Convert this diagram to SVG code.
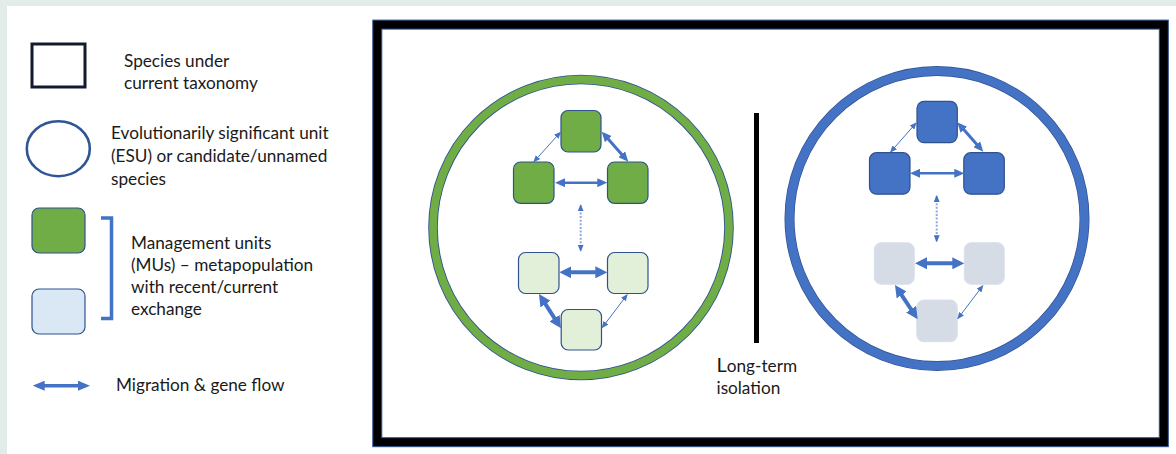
<svg xmlns="http://www.w3.org/2000/svg" width="1176" height="454" viewBox="0 0 1176 454">
<style>
.t{font-family:Lato,"Liberation Sans",sans-serif;font-size:17.2px;fill:#1a1a1a}
.a{fill:none;stroke:#4472c4}
.dot{fill:none;stroke:#8faadc;stroke-width:2;stroke-dasharray:2 1.6}
.g{fill:#70ad47;stroke:#2f528f;stroke-width:1.2}
.lg{fill:#e2f0d9;stroke:#2f528f;stroke-width:1.2}
.b{fill:#4472c4;stroke:#2f528f;stroke-width:1.2}
.lb{fill:#d6dce5;stroke:#dae0ea;stroke-width:1}
</style>
<defs>
<marker id="mt" markerUnits="userSpaceOnUse" viewBox="0 0 7 6" refX="6" refY="3" markerWidth="7" markerHeight="6" orient="auto-start-reverse"><path d="M0,0L7,3L0,6z" fill="#4472c4"/></marker>
<marker id="mm" markerUnits="userSpaceOnUse" viewBox="0 0 10 9" refX="6.2" refY="4.5" markerWidth="10" markerHeight="9" orient="auto-start-reverse"><path d="M0,0L10,4.5L0,9z" fill="#4472c4"/></marker>
<marker id="mk" markerUnits="userSpaceOnUse" viewBox="0 0 12 12" refX="7.5" refY="6" markerWidth="12" markerHeight="12" orient="auto-start-reverse"><path d="M0,0L12,6L0,12z" fill="#4472c4"/></marker>
<marker id="ml" markerUnits="userSpaceOnUse" viewBox="0 0 12 10" refX="7.3" refY="5" markerWidth="12" markerHeight="10" orient="auto-start-reverse"><path d="M0,0L12,5L0,10z" fill="#4472c4"/></marker>
</defs>
<rect x="0" y="0" width="1176" height="454" fill="#e2edea"/>
<rect x="7" y="6" width="1169" height="448" fill="#ffffff"/>

<g id="legend">
<g id="legend-species">
<rect x="32" y="44" width="53" height="43" fill="#fff" stroke="#111a2e" stroke-width="3"/>
<text class="t" x="124" y="67">Species under</text>
<text class="t" x="124" y="88.5">current taxonomy</text>
</g>
<g id="legend-esu">
<ellipse cx="58.3" cy="148.7" rx="31.5" ry="27.5" fill="#fff" stroke="#2f5597" stroke-width="2.6"/>
<text class="t" x="111" y="139">Evolutionarily significant unit</text>
<text class="t" x="111" y="162">(ESU) or candidate/unnamed</text>
<text class="t" x="111" y="184.5">species</text>
</g>
<g id="legend-mu">
<rect class="g" x="32" y="208" width="53" height="45" rx="7"/>
<rect x="32" y="289" width="53" height="45" rx="7" fill="#dae7f5" stroke="#2f528f" stroke-width="1.2"/>
<path d="M101,218H111.5V318.5H101" fill="none" stroke="#4472c4" stroke-width="3.5"/>
<text class="t" x="131" y="248.5">Management units</text>
<text class="t" x="131" y="270.5">(MUs) – metapopulation</text>
<text class="t" x="131" y="292.5">with recent/current</text>
<text class="t" x="131" y="314.5">exchange</text>
</g>
<g id="legend-flow">
<line class="a" x1="37.4" y1="385.7" x2="85.3" y2="385.7" stroke-width="3.5" marker-start="url(#ml)" marker-end="url(#ml)"/>
<text class="t" x="116" y="391">Migration &amp; gene flow</text>
</g>
</g>

<g id="species-box">
<rect x="377.3" y="24.6" width="786.5" height="417.6" fill="none" stroke="#000" stroke-width="9"/>
<rect x="372.8" y="20.1" width="795.5" height="426.6" fill="none" stroke="#2f528f" stroke-width="1"/>
<rect x="381.8" y="29.1" width="777.5" height="408.6" fill="none" stroke="#2f528f" stroke-width="1"/>
</g>

<g id="esu-green">
<circle cx="581" cy="227.5" r="148" fill="none" stroke="#2f528f" stroke-width="9.6"/>
<circle cx="581" cy="227.5" r="148" fill="none" stroke="#70ad47" stroke-width="7.8"/>
</g>
<g id="esu-blue">
<circle cx="937" cy="218.5" r="147.5" fill="none" stroke="#2f528f" stroke-width="10"/>
<circle cx="937" cy="218.5" r="147.5" fill="none" stroke="#4472c4" stroke-width="8.6"/>
</g>

<g id="mu-g1"><rect class="g" x="561" y="110.5" width="40" height="41.5" rx="7"/></g>
<g id="mu-g2"><rect class="g" x="513.5" y="162" width="40.5" height="41.3" rx="7"/></g>
<g id="mu-g3"><rect class="g" x="607.5" y="162" width="40.5" height="41.3" rx="7"/></g>
<g id="mu-lg1"><rect class="lg" x="518.5" y="252.5" width="40.5" height="41" rx="7"/></g>
<g id="mu-lg2"><rect class="lg" x="607.5" y="252.5" width="40.5" height="41" rx="7"/></g>
<g id="mu-lg3"><rect class="lg" x="561.2" y="309.5" width="40.3" height="40.5" rx="7"/></g>

<g id="mu-b1"><rect class="b" x="917" y="101.3" width="40.3" height="41.3" rx="7"/></g>
<g id="mu-b2"><rect class="b" x="869.5" y="152.7" width="40.5" height="41.5" rx="7"/></g>
<g id="mu-b3"><rect class="b" x="963.8" y="152.7" width="40.5" height="41.5" rx="7"/></g>
<g id="mu-lb1"><rect class="lb" x="874.3" y="242.7" width="40" height="41.6" rx="7"/></g>
<g id="mu-lb2"><rect class="lb" x="964.3" y="242.7" width="40" height="41.6" rx="7"/></g>
<g id="mu-lb3"><rect class="lb" x="916.7" y="300" width="40.6" height="41.7" rx="7"/></g>

<g id="connectors">
<line class="a" x1="560.3" y1="132.4" x2="534" y2="161.6" stroke-width="1" marker-start="url(#mt)" marker-end="url(#mt)"/>
<line class="a" x1="604.2" y1="134.5" x2="625.8" y2="158.9" stroke-width="3" marker-start="url(#mm)" marker-end="url(#mm)"/>
<line class="a" x1="558.8" y1="182.7" x2="603.5" y2="182.7" stroke-width="2.5" marker-start="url(#mm)" marker-end="url(#mm)"/>
<line class="dot" x1="580.7" y1="205.3" x2="580.7" y2="250.7" marker-start="url(#mt)" marker-end="url(#mt)"/>
<line class="a" x1="563.8" y1="272.3" x2="602.8" y2="272.3" stroke-width="4" marker-start="url(#mk)" marker-end="url(#mk)"/>
<line class="a" x1="541.4" y1="297.8" x2="558.6" y2="324.5" stroke-width="4" marker-start="url(#mk)" marker-end="url(#mk)"/>
<line class="a" x1="627.1" y1="294.8" x2="602.3" y2="327.5" stroke-width="1" marker-start="url(#mt)" marker-end="url(#mt)"/>

<line class="a" x1="916" y1="123.1" x2="890.7" y2="151.9" stroke-width="1" marker-start="url(#mt)" marker-end="url(#mt)"/>
<line class="a" x1="959.8" y1="125.1" x2="980.8" y2="148.9" stroke-width="3" marker-start="url(#mm)" marker-end="url(#mm)"/>
<line class="a" x1="913.8" y1="173.3" x2="960.5" y2="173.3" stroke-width="2.5" marker-start="url(#mm)" marker-end="url(#mm)"/>
<line class="dot" x1="936.7" y1="196" x2="936.7" y2="241.3" marker-start="url(#mt)" marker-end="url(#mt)"/>
<line class="a" x1="919.5" y1="263.3" x2="959.8" y2="263.3" stroke-width="4" marker-start="url(#mk)" marker-end="url(#mk)"/>
<line class="a" x1="897.5" y1="288.8" x2="915.2" y2="315.5" stroke-width="4" marker-start="url(#mk)" marker-end="url(#mk)"/>
<line class="a" x1="982.7" y1="285.8" x2="957.9" y2="318.5" stroke-width="1" marker-start="url(#mt)" marker-end="url(#mt)"/>
</g>

<g id="isolation">
<line x1="756.5" y1="113" x2="756.5" y2="343" stroke="#000" stroke-width="5"/>
<text class="t" x="716.5" y="371.7"><tspan font-size="20">L</tspan>ong-term</text>
<text class="t" x="716.5" y="394.3">isolation</text>
</g>
</svg>
